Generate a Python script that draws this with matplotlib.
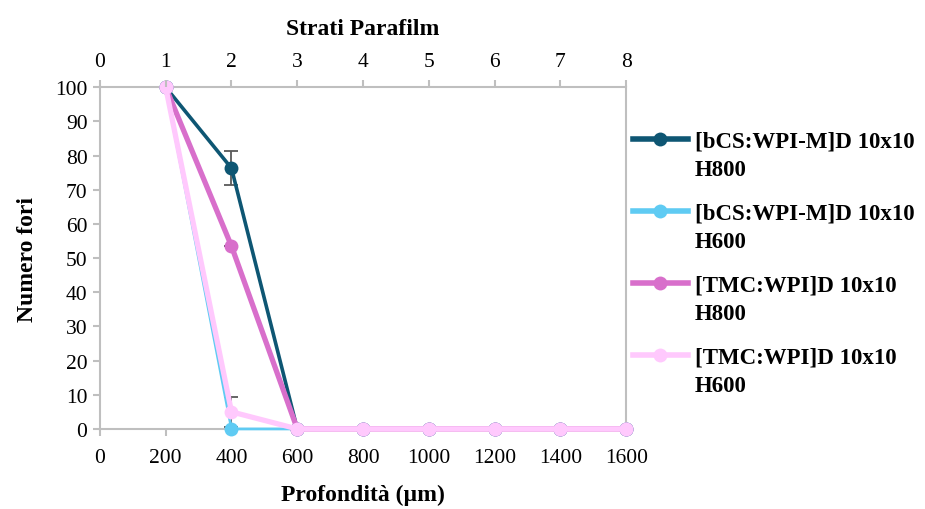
import matplotlib
matplotlib.use("Agg")
import matplotlib.pyplot as plt
from matplotlib.lines import Line2D
from matplotlib.legend_handler import HandlerLine2D

# Depth (µm) and number of holes per formulation
depth = [200, 400, 600, 800, 1000, 1200, 1400, 1600]
labels = [
    "[bCS:WPI-M]D 10x10\nH800",
    "[bCS:WPI-M]D 10x10\nH600",
    "[TMC:WPI]D 10x10\nH800",
    "[TMC:WPI]D 10x10\nH600",
]
bcs_h800 = [100, 76.3, 0, 0, 0, 0, 0, 0]
bcs_h800_err = [0, 5, 0, 0, 0, 0, 0, 0]
bcs_h600 = [100, 0, 0, 0, 0, 0, 0, 0]
bcs_h600_err = [0, 0, 0, 0, 0, 0, 0, 0]
tmc_h800 = [100, 53.5, 0, 0, 0, 0, 0, 0]
tmc_h800_err = [0, 0, 0, 0, 0, 0, 0, 0]
tmc_h600 = [100, 5, 0, 0, 0, 0, 0, 0]
tmc_h600_err = [0, 4.3, 0, 0, 0, 0, 0, 0]

layer_ticks = [0, 1, 2, 3, 4, 5, 6, 7, 8]

series = [bcs_h800, bcs_h600, tmc_h800, tmc_h600]
errors = [bcs_h800_err, bcs_h600_err, tmc_h800_err, tmc_h600_err]
colors = ["#0E5673", "#5FCBF3", "#D86FCB", "#FFC9FD"]
widths = [2.6, 2.0, 3.8, 3.8]

plt.rcParams["font.family"] = ["Liberation Serif", "DejaVu Serif"]
grey = "#BFBFBF"


class FirstLineHandler(HandlerLine2D):
    """Place the legend key level with the first line of a two-line label."""

    def create_artists(self, legend, orig_handle, xdescent, ydescent,
                       width, height, fontsize, trans):
        return super().create_artists(legend, orig_handle, xdescent,
                                      ydescent - 1.4 * fontsize, width,
                                      height, fontsize, trans)


fig = plt.figure(figsize=(9.25, 5.1), dpi=100)
ax = fig.add_axes([0.108, 0.157, 0.569, 0.670])

handles = []
for i, (vals, err, col, lw) in enumerate(zip(series, errors, colors, widths)):
    ax.errorbar(depth, vals, yerr=err, fmt="none", ecolor="#595959",
                elinewidth=1.3, capsize=5, capthick=1.3, zorder=1.5)
    ax.plot(depth, vals, color=col, lw=lw, marker="o", markersize=10,
            markeredgewidth=0, clip_on=False, zorder=2.5 + i)
    handles.append(Line2D([], [], color=col, lw=4, marker="o",
                          markersize=10, markeredgewidth=0))

ax.set_xlim(0, 1600)
ax.set_ylim(0, 100)
ax.set_xticks(range(0, 1601, 200))
ax.set_yticks(range(0, 101, 10))
ax.tick_params(axis="both", labelsize=15.5, color=grey, width=1.5, length=5,
               direction="out")
ax.tick_params(axis="x", pad=9)
ax.tick_params(axis="y", pad=4)
for s in ax.spines.values():
    s.set_color(grey)
    s.set_linewidth(1.5)

ax.set_xlabel("Profondità (µm)", fontsize=17, fontweight="bold", labelpad=12)
ax.set_ylabel("Numero fori", fontsize=17, fontweight="bold", labelpad=12.5)

top = ax.twiny()
top.set_xlim(0, 1600)
top.set_xticks([t * 200 for t in layer_ticks])
top.set_xticklabels([str(t) for t in layer_ticks])
top.tick_params(axis="x", labelsize=15.5, color=grey, width=1.5, length=5,
                direction="out", pad=7)
for s in top.spines.values():
    s.set_visible(False)
top.set_xlabel("Strati Parafilm", fontsize=17, fontweight="bold",
               labelpad=12.5)

leg = fig.legend(handles, labels, loc="upper left",
                 bbox_to_anchor=(0.684, 0.742), frameon=False,
                 prop={"size": 16.5, "weight": "bold"}, handlelength=2.4,
                 handletextpad=0.3, labelspacing=1.0, borderpad=0,
                 borderaxespad=0,
                 handler_map={Line2D: FirstLineHandler()})
for t in leg.get_texts():
    t.set_linespacing(1.45)

fig.savefig("out.png", dpi=100)
